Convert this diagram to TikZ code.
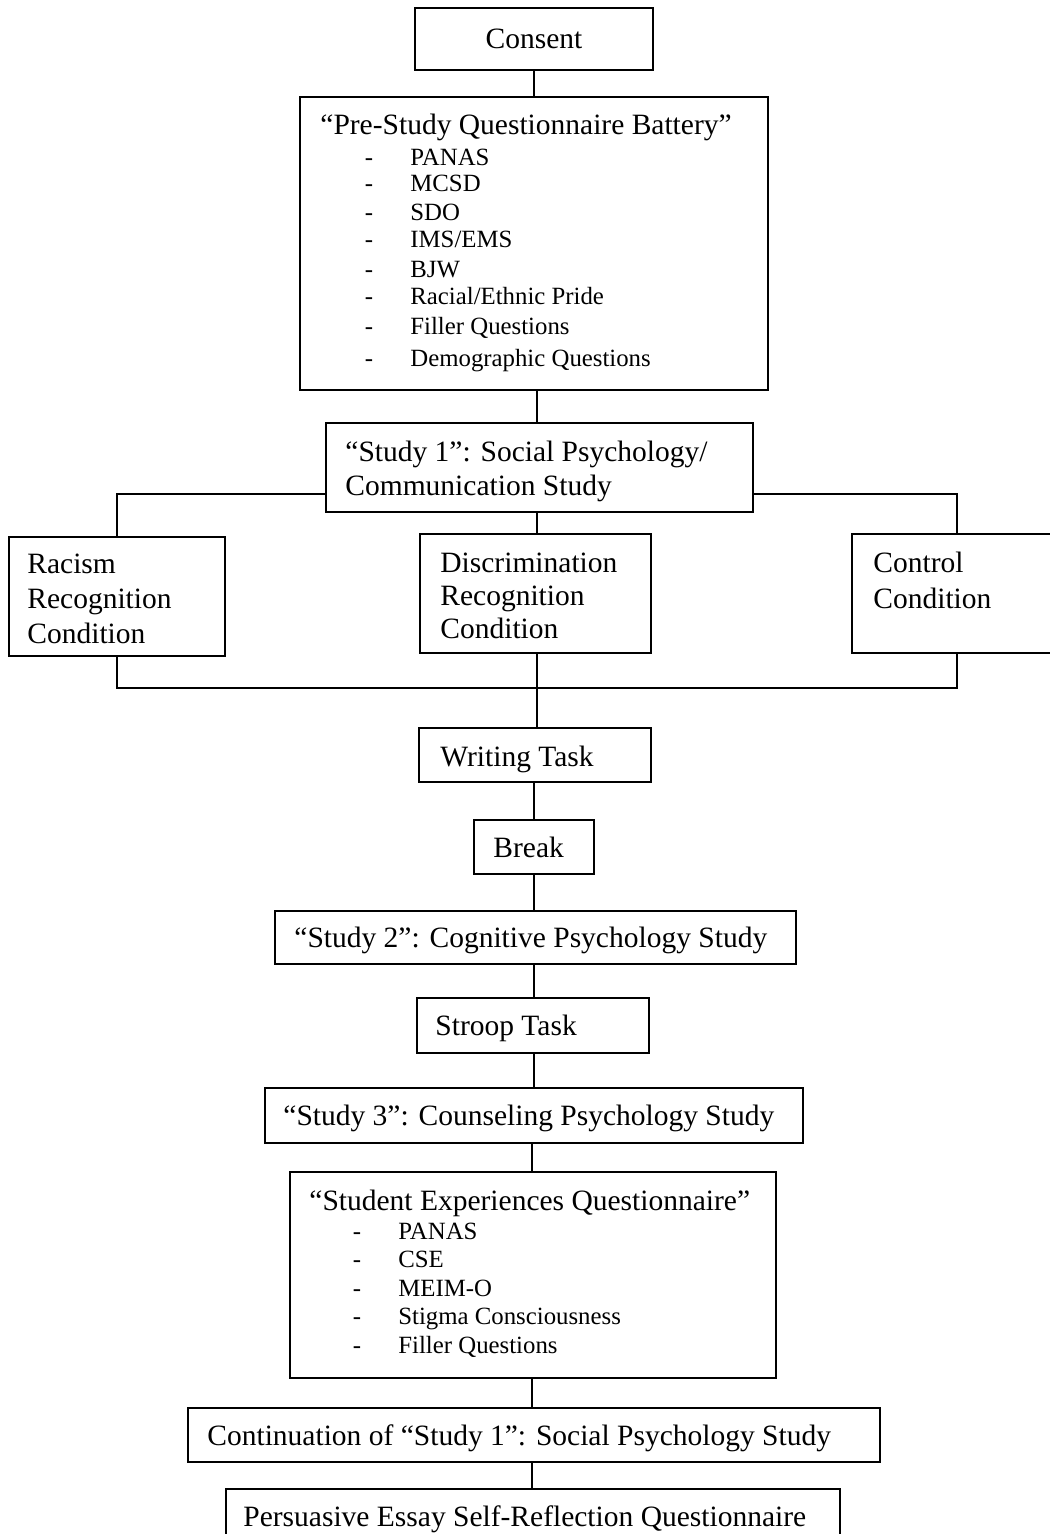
\documentclass[tikz,border=0pt]{standalone}
\usepackage{fontspec}
\setmainfont{Liberation Serif}
\newcommand\mybox[5]{\node[box, minimum width={(#4-#2)*0.5pt}, minimum height={(#5-#3)*0.5pt}] (#1) at ({(#2+#4)/2},{(#3+#5)/2}) {};}
\begin{document}
\begin{tikzpicture}[x=0.5pt,y=-0.5pt,
  box/.style={draw, line width=1pt, inner sep=0pt, fill=white},
  conn/.style={line width=1pt},
  big/.style={anchor=base west, inner sep=0pt, font=\fontsize{14.75}{17}\selectfont},
  small/.style={anchor=base west, inner sep=0pt, font=\fontsize{12.4}{14}\selectfont},
  dashmark/.style={anchor=base, inner sep=0pt, font=\fontsize{12.4}{14}\selectfont}]
\useasboundingbox (0,0) rectangle (1049,1534);
% spines
\coordinate (sp1) at (534,0);
\coordinate (sp2) at (537,0);
\coordinate (sp3) at (534,0);
\coordinate (sp4) at (532,0);
\coordinate (bl) at (117,494);
\coordinate (br) at (957,494);
\coordinate (jl) at (117,688);
\coordinate (jr) at (957,688);
% boxes
\mybox{consent}{415}{8}{653}{70}
\mybox{prestudy}{300}{97}{768}{390}
\mybox{study1}{326}{423}{753}{512}
\mybox{racism}{9}{537}{225}{656}
\mybox{discrim}{420}{534}{651}{653}
\mybox{control}{852}{534}{1062}{653}
\mybox{writing}{419}{728}{651}{782}
\mybox{break}{474}{820}{594}{874}
\mybox{study2}{275}{911}{796}{964}
\mybox{stroop}{417}{998}{649}{1053}
\mybox{study3}{265}{1088}{803}{1143}
\mybox{student}{290}{1172}{776}{1378}
\mybox{contin}{188}{1408}{880}{1462}
\mybox{persuas}{226}{1489}{840}{1580}
% connectors
\draw[conn] (consent.south -| sp1) -- (prestudy.north -| sp1);
\draw[conn] (prestudy.south -| sp2) -- (study1.north -| sp2);
\draw[conn] (study1.west |- bl) -- (bl) -- (racism.north -| bl);
\draw[conn] (study1.east |- br) -- (br) -- (control.north -| br);
\draw[conn] (study1.south -| sp2) -- (discrim.north -| sp2);
\draw[conn] (racism.south -| jl) -- (jl) -- (jr) -- (control.south -| jr);
\draw[conn] (discrim.south -| sp2) -- (writing.north -| sp2);
\draw[conn] (writing.south -| sp3) -- (break.north -| sp3);
\draw[conn] (break.south -| sp3) -- (study2.north -| sp3);
\draw[conn] (study2.south -| sp3) -- (stroop.north -| sp3);
\draw[conn] (stroop.south -| sp3) -- (study3.north -| sp3);
\draw[conn] (study3.south -| sp4) -- (student.north -| sp4);
\draw[conn] (student.south -| sp4) -- (contin.north -| sp4);
\draw[conn] (contin.south -| sp4) -- (persuas.north -| sp4);
% texts
\node[big, anchor=base] (t-consent) at (534,49) {Consent};
\node[big] (t-pre) at (320,135) {“Pre-Study Questionnaire Battery”};
\foreach \y/\t [count=\i] in {166/PANAS,192/MCSD,221/SDO,248/IMS\slash EMS,278/BJW,305/Racial\slash Ethnic Pride,335/Filler Questions,367/Demographic Questions}{
  \node[dashmark] (pd-\i) at (369,\y) {-};
  \node[small] (pi-\i) at (410,\y) {\t};
}
\node[big] (t-s1a) at (345,461) {“Study 1”: Social Psychology/};
\node[big] (t-s1b) at (345,495) {Communication Study};
\node[big] (t-ra) at (27,573) {Racism};
\node[big] (t-rb) at (27,608) {Recognition};
\node[big] (t-rc) at (27,643) {Condition};
\node[big] (t-da) at (440,572) {Discrimination};
\node[big] (t-db) at (440,605) {Recognition};
\node[big] (t-dc) at (440,638) {Condition};
\node[big] (t-ca) at (873,572) {Control};
\node[big] (t-cb) at (873,608) {Condition};
\node[big] (t-writing) at (440,766) {Writing Task};
\node[big] (t-break) at (493,857) {Break};
\node[big] (t-study2) at (294,947) {“Study 2”: Cognitive Psychology Study};
\node[big] (t-stroop) at (435,1035) {Stroop Task};
\node[big] (t-study3) at (283,1125) {“Study 3”: Counseling Psychology Study};
\node[big] (t-student) at (309,1210) {“Student Experiences Questionnaire”};
\foreach \y/\t [count=\i] in {1239/PANAS,1267/CSE,1296/MEIM-O,1324/Stigma Consciousness,1353/Filler Questions}{
  \node[dashmark] (sd-\i) at (357,\y) {-};
  \node[small] (si-\i) at (398,\y) {\t};
}
\node[big] (t-contin) at (207,1445) {Continuation of “Study 1”: Social Psychology Study};
\node[big] (t-persuas) at (243,1526) {Persuasive Essay Self-Reflection Questionnaire};
\end{tikzpicture}
\end{document}
